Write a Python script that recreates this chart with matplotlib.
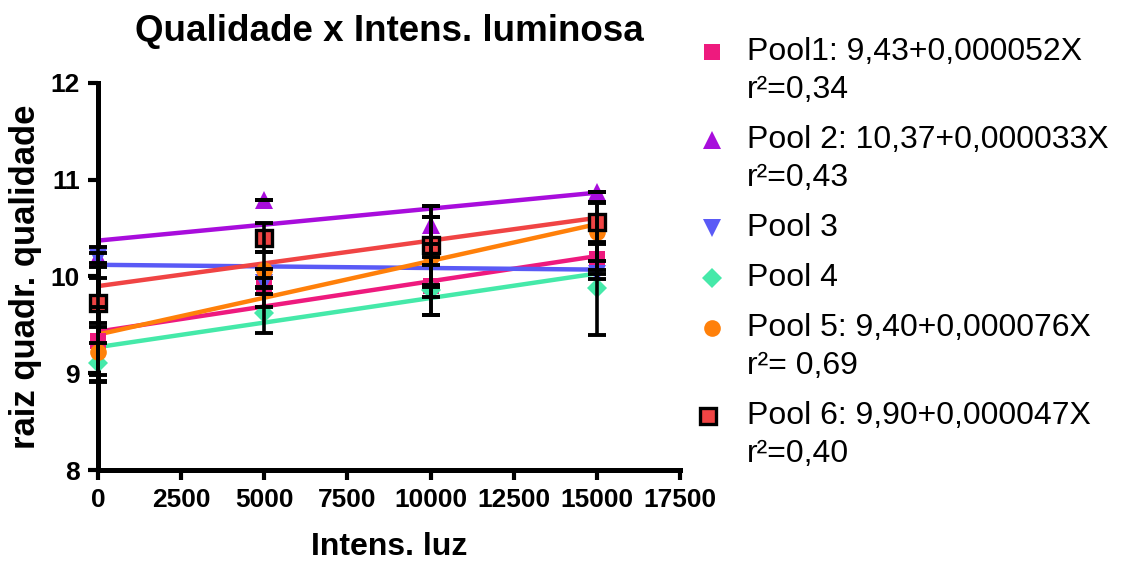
import numpy as np
import matplotlib
matplotlib.use("Agg")
import matplotlib.pyplot as plt
from matplotlib.lines import Line2D

# ── Dados ─────────────────────────────────────────────────────────────────────
luz = [0, 5000, 10000, 15000]
pools = ["Pool1", "Pool 2", "Pool 3", "Pool 4", "Pool 5", "Pool 6"]

medias = [
    [9.33, 9.88, 9.90, 10.18],   # Pool1
    [10.20, 10.79, 10.53, 10.87],  # Pool 2
    [10.19, 9.93, 10.25, 10.02],  # Pool 3
    [9.11, 9.62, 9.86, 9.88],     # Pool 4
    [9.22, 10.07, 10.20, 10.46],  # Pool 5
    [9.73, 10.40, 10.32, 10.56],  # Pool 6
]
erros = [
    [0.35, 0.20, 0.30, 0.15],
    [0.10, 0.00, 0.20, 0.00],
    [0.05, 0.05, 0.36, 0.05],
    [0.20, 0.20, 0.26, 0.48],
    [0.30, 0.18, 0.41, 0.30],
    [0.25, 0.15, 0.41, 0.21],
]
# ajuste linear: intercepto, inclinação
intercepto = [9.43, 10.37, 10.12, 9.27, 9.40, 9.90]
inclinacao = [0.000052, 0.000033, -0.0000033, 0.0000507, 0.000076, 0.000047]

rotulos = [
    ["Pool1: 9,43+0,000052X", "r²=0,34"],
    ["Pool 2: 10,37+0,000033X", "r²=0,43"],
    ["Pool 3"],
    ["Pool 4"],
    ["Pool 5: 9,40+0,000076X", "r²= 0,69"],
    ["Pool 6: 9,90+0,000047X", "r²=0,40"],
]

cores = ["#EE1A7E", "#A80DDC", "#5A5AF6", "#45E9A9", "#FF800A", "#F04444"]
marcadores = ["s", "^", "v", "D", "o", "s"]
tam_marc = [11, 13, 13, 10, 12, 11]

plt.rcParams.update({
    "font.family": ["Liberation Sans", "DejaVu Sans"],
})

fig = plt.figure(figsize=(11.22, 5.63), dpi=100)
ax = fig.add_axes([0.0873, 0.165, 0.5187, 0.688])

xs = np.array([0, 15000])
for i in range(len(pools)):
    ax.plot(xs, intercepto[i] + inclinacao[i] * xs, color=cores[i], lw=3.2,
            zorder=2, solid_capstyle="butt")

for i in range(len(pools)):
    ec = "black" if i == 5 else cores[i]
    mew = 2.4 if i == 5 else 0
    ax.plot(luz, medias[i], ls="none", marker=marcadores[i], ms=tam_marc[i],
            color=cores[i], mec=ec, mew=mew, zorder=3, clip_on=False)
    ax.errorbar(luz, medias[i], yerr=erros[i], fmt="none", ecolor="black",
                elinewidth=2.6, capsize=6.5, capthick=2.8, zorder=4,
                clip_on=False)

ax.set_xlim(0, 17500)
ax.set_ylim(8, 12)
ax.set_xticks(np.arange(0, 17501, 2500))
ax.set_yticks([8, 9, 10, 11, 12])
for s in ["top", "right"]:
    ax.spines[s].set_visible(False)
for s in ["left", "bottom"]:
    ax.spines[s].set_linewidth(3.6)
ax.tick_params(width=3, length=7, direction="out", labelsize=19, pad=6)
for lab in ax.get_xticklabels() + ax.get_yticklabels():
    lab.set_fontweight("bold")

ax.set_xlabel("Intens. luz", fontsize=23, fontweight="bold", labelpad=14)
ax.set_ylabel("raiz quadr. qualidade", fontsize=25, fontweight="bold", labelpad=6)
ax.set_title("Qualidade x Intens. luminosa", fontsize=26.5, fontweight="bold", pad=30)

# ── Legenda manual ────────────────────────────────────────────────────────────
W, H = 1122, 563
y = 52
for i in range(len(pools)):
    mx = 708 if i == 5 else 712
    ec = "black" if i == 5 else cores[i]
    mew = 2.4 if i == 5 else 0
    fig.add_artist(Line2D([mx / W], [1 - y / H], marker=marcadores[i],
                          ms=tam_marc[i], color=cores[i], mec=ec, mew=mew,
                          transform=fig.transFigure))
    for j, linha in enumerate(rotulos[i]):
        fig.text(747 / W, 1 - (y + 38 * j) / H, linha, fontsize=23,
                 va="center", ha="left")
    y += 38 * len(rotulos[i]) + 12

fig.savefig("out.png", dpi=100, facecolor="white")
